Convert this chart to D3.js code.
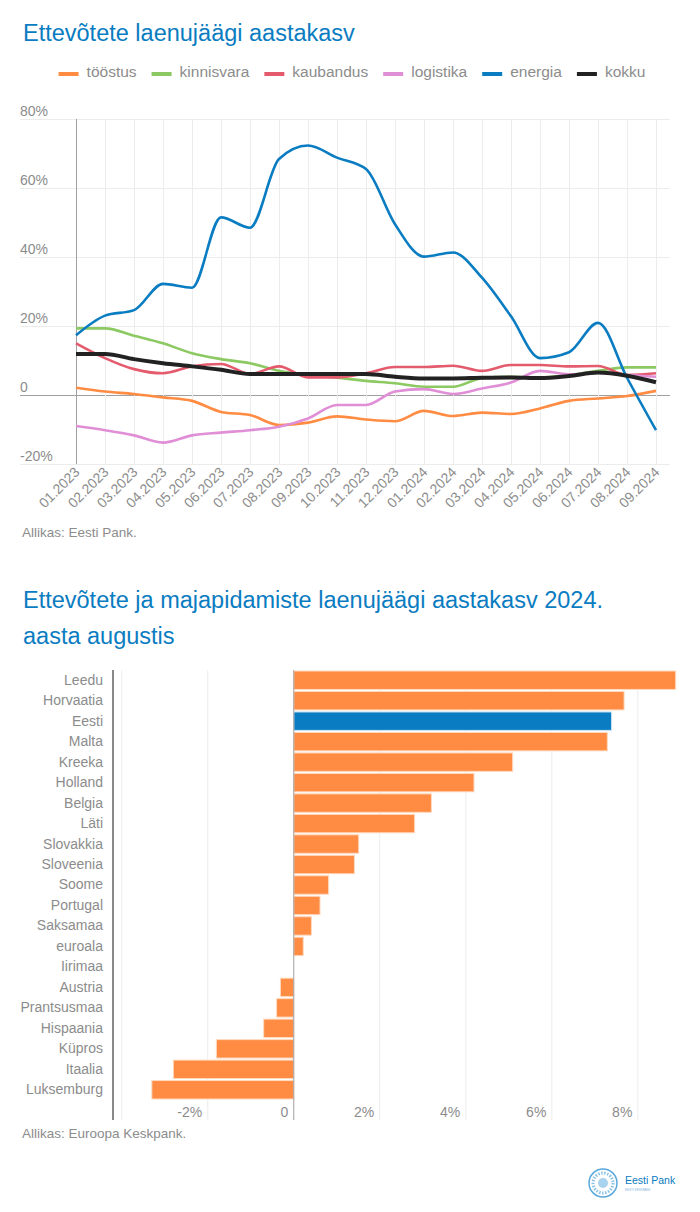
<!DOCTYPE html>
<html>
<head>
<meta charset="utf-8">
<script src="https://cdn.jsdelivr.net/npm/d3@7"></script>
<style>
  body { margin: 0; background: #fff; }
  svg { font-family: "Liberation Sans", Arial, sans-serif; }
  .title { fill: #0a7cc1; font-size: 23.5px; }
  .muted { fill: #8c8c8c; font-size: 13.5px; }
</style>
</head>
<body>
<div id="chart"></div>
<script>
// chart data
var months = ["01.2023", "02.2023", "03.2023", "04.2023", "05.2023", "06.2023", "07.2023",
    "08.2023", "09.2023", "10.2023", "11.2023", "12.2023", "01.2024", "02.2024", "03.2024",
    "04.2024", "05.2024", "06.2024", "07.2024", "08.2024", "09.2024"];

var toostus = [2.1, 1.0, 0.3, -0.7, -1.7, -4.9, -5.8, -8.7, -8.0, -6.2, -7.1, -7.6, -4.6, -6.1, -5.1, -5.5, -3.9, -1.7, -1.0, -0.3, 1.2];
var kinnisvara = [19.3, 19.3, 17.2, 15.0, 12.1, 10.4, 9.2, 7.0, 5.8, 5.0, 4.1, 3.4, 2.4, 2.4, 4.9, 5.3, 5.1, 5.8, 7.0, 8.0, 8.0];
var kaubandus = [15.0, 10.7, 7.5, 6.3, 8.3, 9.0, 6.1, 8.3, 5.1, 5.1, 6.3, 8.1, 8.1, 8.5, 7.0, 8.7, 8.7, 8.3, 8.4, 5.8, 6.3];
var logistika = [-9.0, -10.2, -11.7, -13.8, -11.7, -10.9, -10.2, -9.2, -6.8, -2.9, -2.9, 1.0, 1.7, 0.3, 1.9, 3.6, 7.0, 6.0, 6.5, 5.8, 5.3];
var energia = [17.3, 23.0, 24.6, 32.2, 31.1, 51.5, 48.5, 68.4, 72.3, 68.8, 65.5, 49.5, 40.1, 41.3, 34.0, 22.8, 10.7, 12.4, 20.9, 5.0, -10.2];
var kokku = [11.9, 11.9, 10.4, 9.2, 8.3, 7.3, 6.1, 6.1, 6.1, 6.1, 6.1, 5.3, 4.8, 4.8, 5.0, 5.1, 4.9, 5.5, 6.5, 5.6, 3.7];

var seriesNames = ["tööstus", "kinnisvara", "kaubandus", "logistika", "energia", "kokku"];
var seriesColors = ["#ff8c42", "#8cc963", "#e35b6d", "#e08fd6", "#0a7cc1", "#222222"];
var yTicks = [-20, 0, 20, 40, 60, 80];

var countries = ["Leedu", "Horvaatia", "Eesti", "Malta", "Kreeka", "Holland", "Belgia", "Läti",
    "Slovakkia", "Sloveenia", "Soome", "Portugal", "Saksamaa", "euroala", "Iirimaa", "Austria",
    "Prantsusmaa", "Hispaania", "Küpros", "Itaalia", "Luksemburg"];
var growth = [8.88, 7.68, 7.39, 7.29, 5.09, 4.19, 3.2, 2.81, 1.51, 1.41, 0.81, 0.61, 0.41, 0.22, 0,
    -0.31, -0.4, -0.7, -1.8, -2.8, -3.3];
var barTicks = [-2, 0, 2, 4, 6, 8];

var seriesValues = [toostus, kinnisvara, kaubandus, logistika, energia, kokku];

var svg = d3.select("#chart")
    .append("svg")
    .attr("width", 700)
    .attr("height", 1212);

// ---------- line chart ----------
svg.append("text")
    .attr("class", "title")
    .attr("x", 23)
    .attr("y", 41)
    .text("Ettevõtete laenujäägi aastakasv");

// legend, centered
var legend = svg.append("g");
var lx = 0;
seriesNames.forEach(function (name, i) {
    var item = legend.append("g").attr("transform", `translate(${lx},0)`);
    item.append("rect")
        .attr("x", 0).attr("y", -2)
        .attr("width", 20).attr("height", 4)
        .attr("fill", seriesColors[i]);
    var t = item.append("text")
        .attr("class", "muted")
        .attr("x", 28)
        .attr("y", 3)
        .style("font-size", "15.5px")
        .text(name);
    lx += 28 + t.node().getComputedTextLength() + 15;
});
legend.attr("transform", `translate(${(700 - (lx - 15)) / 2 + 2}, 74)`);

var x = d3.scalePoint()
    .domain(months)
    .range([76, 656]);

var y = d3.scaleLinear()
    .domain([-20, 80])
    .range([464, 119]);

// horizontal grid + y labels
var yAxis = svg.append("g")
    .attr("transform", "translate(20,0)")
    .call(d3.axisRight(y).tickValues(yTicks).tickSize(650)
        .tickFormat(d => d === 0 ? "0" : d + "%"));
yAxis.select(".domain").remove();
yAxis.selectAll("line")
    .attr("stroke", d => d === 0 ? "#a0a0a0" : "#ececec");
yAxis.selectAll("text")
    .attr("x", 0)
    .attr("dy", -4)
    .attr("text-anchor", "start")
    .attr("fill", "#8c8c8c")
    .style("font-size", "14px");

// vertical grid + month labels
var xAxis = svg.append("g")
    .attr("transform", "translate(0,464)")
    .call(d3.axisBottom(x).tickSize(-(464 - 119)).tickPadding(0));
xAxis.select(".domain").remove();
xAxis.selectAll("line")
    .attr("stroke", (d, i) => i === 0 ? "#a0a0a0" : "#ececec");
xAxis.selectAll("text")
    .attr("x", 0)
    .attr("y", 0)
    .attr("dy", null)
    .attr("text-anchor", "end")
    .attr("transform", "translate(4,9) rotate(-45)")
    .attr("fill", "#8c8c8c")
    .style("font-size", "14px");

var line = d3.line()
    .x((d, i) => x(months[i]))
    .y(d => y(d))
    .curve(d3.curveMonotoneX);

svg.append("g")
    .selectAll("path")
    .data(seriesValues)
    .enter()
    .append("path")
    .attr("d", d => line(d))
    .attr("fill", "none")
    .attr("stroke", (d, i) => seriesColors[i])
    .attr("stroke-width", (d, i) => i === 5 ? 4 : 2.6)
    .attr("stroke-linejoin", "round");

svg.append("text")
    .attr("class", "muted")
    .attr("x", 22)
    .attr("y", 537)
    .text("Allikas: Eesti Pank.");

// ---------- bar chart ----------
svg.append("text")
    .attr("class", "title")
    .attr("x", 23)
    .attr("y", 608)
    .text("Ettevõtete ja majapidamiste laenujäägi aastakasv 2024.");
svg.append("text")
    .attr("class", "title")
    .attr("x", 23)
    .attr("y", 644)
    .text("aasta augustis");

var xb = d3.scaleLinear()
    .domain([-4.18, 8.98])
    .range([114, 680]);

var yb = d3.scaleBand()
    .domain(countries)
    .range([671, 1099])
    .paddingInner(0.1);

// grid lines
svg.append("g")
    .selectAll("line")
    .data([-4, -2, 2, 4, 6, 8])
    .enter()
    .append("line")
    .attr("x1", d => xb(d)).attr("x2", d => xb(d))
    .attr("y1", 670).attr("y2", 1120)
    .attr("stroke", "#ececec");

var barAxis = svg.append("g")
    .attr("transform", "translate(0,1120)")
    .call(d3.axisBottom(xb).tickValues(barTicks).tickSize(0)
        .tickFormat(d => d === 0 ? "0" : d + "%"));
barAxis.select(".domain").remove();
barAxis.selectAll("text")
    .attr("x", -6)
    .attr("y", -3)
    .attr("dy", null)
    .attr("text-anchor", "end")
    .attr("fill", "#8c8c8c")
    .style("font-size", "14px");

svg.append("g")
    .selectAll("rect")
    .data(growth)
    .enter()
    .append("rect")
    .attr("x", d => xb(Math.min(0, d)))
    .attr("y", (d, i) => yb(countries[i]))
    .attr("width", d => Math.abs(xb(d) - xb(0)))
    .attr("height", yb.bandwidth())
    .attr("fill", (d, i) => countries[i] === "Eesti" ? "#0a7cc1" : "#ff8c42")
    .attr("stroke", (d, i) => countries[i] === "Eesti" ? "#cfe6f5" : "#ffd9bf")
    .attr("stroke-width", 1);

// zero line and left axis bar
svg.append("line")
    .attr("x1", xb(0)).attr("x2", xb(0))
    .attr("y1", 670).attr("y2", 1120)
    .attr("stroke", "#a0a0a0");
svg.append("line")
    .attr("x1", 113).attr("x2", 113)
    .attr("y1", 670).attr("y2", 1120)
    .attr("stroke", "#8a8a8a")
    .attr("stroke-width", 2);

var countryAxis = svg.append("g")
    .attr("transform", "translate(103,0)")
    .call(d3.axisLeft(yb).tickSize(0).tickPadding(0));
countryAxis.select(".domain").remove();
countryAxis.selectAll("text")
    .attr("fill", "#8c8c8c")
    .style("font-size", "14px");

svg.append("text")
    .attr("class", "muted")
    .attr("x", 22)
    .attr("y", 1138)
    .text("Allikas: Euroopa Keskpank.");

// logo
var logo = svg.append("g").attr("transform", "translate(603,1183)");
logo.append("circle").attr("r", 14).attr("fill", "none").attr("stroke", "#5aa8dd").attr("stroke-width", 1.5);
logo.append("circle").attr("r", 10).attr("fill", "none").attr("stroke", "#8cc2e8").attr("stroke-width", 3).attr("stroke-dasharray", "1.5 1.5");
logo.append("circle").attr("r", 5).attr("fill", "#a9d2ef");
logo.append("text").attr("x", 22).attr("y", 1).attr("fill", "#0a7cc1")
    .style("font-size", "10.5px").text("Eesti Pank");
logo.append("text").attr("x", 22).attr("y", 8).attr("fill", "#7fb6df")
    .style("font-size", "3px").text("EESTI KESKPANK");
</script>
</body>
</html>
